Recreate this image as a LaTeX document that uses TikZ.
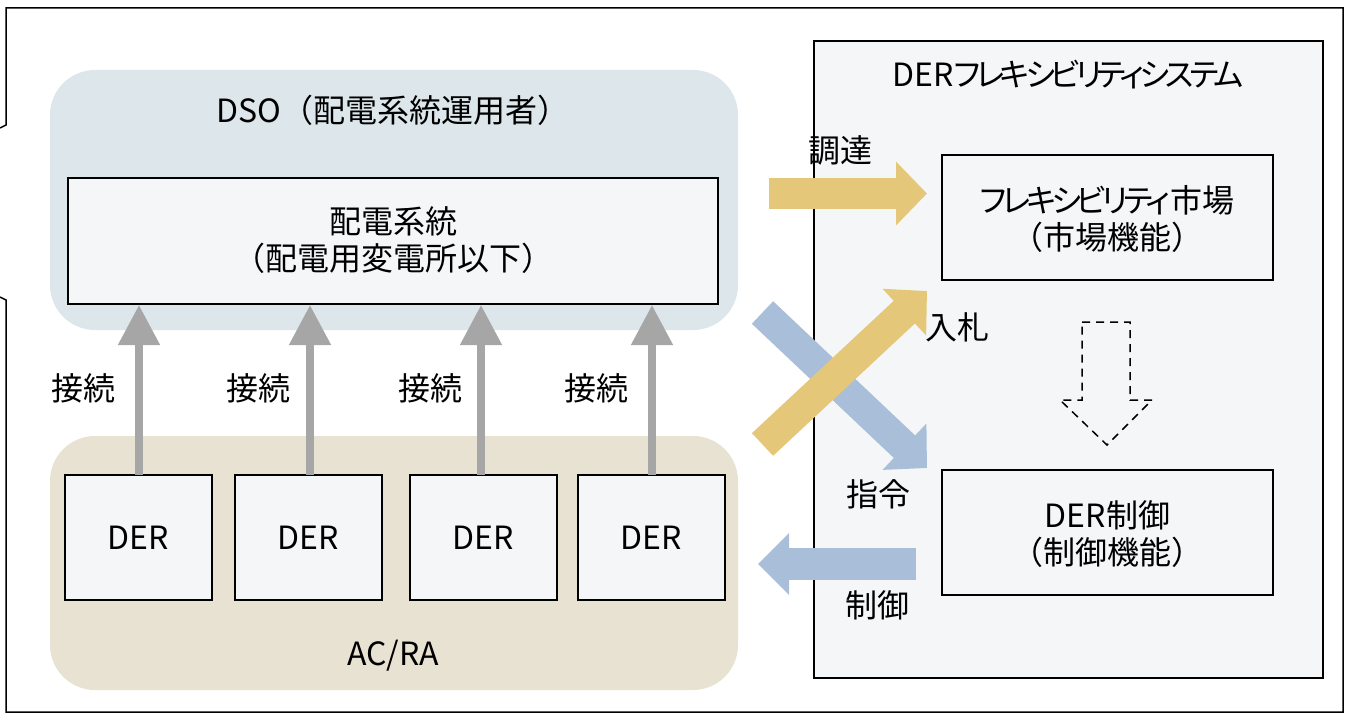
\documentclass[tikz,border=0pt]{standalone}
\usepackage{fontspec}
\setmainfont{Noto Sans CJK JP}
\newfontfamily\pfont[RawFeature=+palt, LetterSpace=-14]{Noto Sans CJK JP}
\usetikzlibrary{arrows.meta}
\definecolor{dsobg}{RGB}{220,230,235}
\definecolor{acbg}{RGB}{232,226,211}
\definecolor{boxbg}{RGB}{245,246,248}
\definecolor{yel}{RGB}{228,199,120}
\definecolor{blu}{RGB}{169,190,216}
\definecolor{gry}{RGB}{166,166,166}
\tikzset{
  txt/.style={font=\fontsize{32}{37}\selectfont, inner sep=0pt, align=center},
  whitebox/.style={draw=black, line width=1.5pt, fill=boxbg, inner sep=0pt},
  conn/.style={draw=gry, line width=8pt, -{Triangle[width=40pt,length=40pt]}},
  bigarrow/.style={line width=31pt, -{Triangle[width=62pt,length=31pt]}},
}
\begin{document}
\begin{tikzpicture}[x=1pt,y=-1pt]
\useasboundingbox (0,0) rectangle (1346,714);
% outer frame
\draw[line width=1.5pt] (0,128)--(6,125)--(6,8)--(1343,8)--(1343,712)--(6,712)--(6,300)--(0,297);
% regions
\fill[dsobg, rounded corners=45pt] (50,70) rectangle (738,330);
\fill[acbg, rounded corners=45pt] (50,436) rectangle (738,690);
\node[txt] (dsot) at (393,110) {DSO（配電系統運用者）};
\node[whitebox, minimum width=650pt, minimum height=126pt] (grid) at (393,241) {};
\node[txt] (gridt) at (393,240) {配電系統\\（配電用変電所以下）};
\node[txt] (acra) at (393,656) {AC/RA};
% DER boxes
\foreach \i/\x in {1/138.5,2/308.5,3/483.5,4/651.5}{
  \node[whitebox, minimum width=147pt, minimum height=125pt] (der\i) at (\x,537.5) {};
  \node[txt] at (der\i) {DER};
}
% connection arrows
\foreach \i/\x in {1/139,2/310,3/481,4/652}{
  \coordinate (s\i) at (\x,475);
  \coordinate (e\i) at (\x,305);
  \draw[conn] (s\i) -- (e\i);
}
\node[txt] (c1) at (83,388) {接続};
\node[txt] (c2) at (258,388) {接続};
\node[txt] (c3) at (430,388) {接続};
\node[txt] (c4) at (596,388) {接続};
% DER flexibility system
\node[whitebox, minimum width=509pt, minimum height=637pt] (sys) at (1068.5,359.5) {};
\node[txt] (syst) at (1068,75) {DER{\pfont フレキシビリティシステム}};
\node[whitebox, minimum width=331pt, minimum height=125pt] (mkt) at (1107.5,217.5) {};
\node[txt] at (1107.5,219) {{\pfont フレキシビリティ}市場\\（市場機能）};
\node[whitebox, minimum width=331pt, minimum height=125pt] (ctl) at (1107.5,532.5) {};
\node[txt] at (1107.5,534) {DER制御\\（制御機能）};
% dashed arrow
\draw[line width=1.5pt, dash pattern=on 8pt off 6pt] (1082,322)--(1130,322)--(1130,400)--(1152,400)--(1107,445)--(1060,400)--(1082,400)--cycle;
% big arrows
\coordinate (yh1) at (769,193.5);
\coordinate (yh2) at (927,193.5);
\draw[bigarrow, draw=yel] (yh1) -- (yh2);
\coordinate (bd1) at (762.5,312.5);
\coordinate (bd2) at (927,468);
\draw[bigarrow, draw=blu] (bd1) -- (bd2);
\coordinate (yd1) at (762.5,444.5);
\coordinate (yd2) at (927,291);
\draw[bigarrow, draw=yel] (yd1) -- (yd2);
\coordinate (bh1) at (916,564);
\coordinate (bh2) at (758,564);
\draw[draw=blu, line width=32pt, -{Triangle[width=60pt,length=31pt]}] (bh1) -- (bh2);
% labels
\node[txt] (l1) at (840,150) {調達};
\node[txt] (l2) at (957,327) {入札};
\node[txt] (l3) at (878,494) {指令};
\node[txt] (l4) at (877,605) {制御};
\end{tikzpicture}
\end{document}
